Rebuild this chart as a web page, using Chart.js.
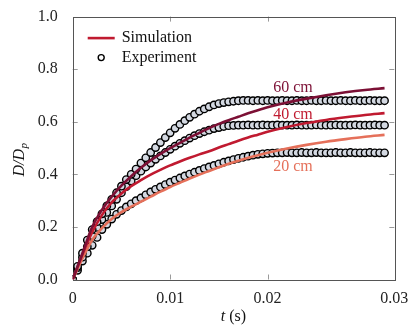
<!DOCTYPE html>
<html>
<head>
<meta charset="utf-8">
<script src="https://cdn.jsdelivr.net/npm/chart.js@4.4.0/dist/chart.umd.min.js"></script>
<style>
  html, body { margin: 0; padding: 0; background: #fff; }
  #wrap { width: 415px; height: 330px; }
</style>
</head>
<body>
<div id="wrap"><canvas id="grafico" width="415" height="330"></canvas></div>
<script>
// Datos
const tExp = [0,0.0005,0.001,0.0015,0.002,0.0025,0.003,0.0035,0.004,0.0045,
  0.005,0.0055,0.006,0.0065,0.007,0.0075,0.008,0.0085,0.009,0.0095,
  0.01,0.0105,0.011,0.0115,0.012,0.0125,0.013,0.0135,0.014,0.0145,
  0.015,0.0155,0.016,0.0165,0.017,0.0175,0.018,0.0185,0.019,0.0195,
  0.02,0.0205,0.021,0.0215,0.022,0.0225,0.023,0.0235,0.024,0.0245,
  0.025,0.0255,0.026,0.0265,0.027,0.0275,0.028,0.0285,0.029,0.0295,
  0.03,0.0305,0.031,0.0315,0.032];

const exp60 = [0,0.05,0.10,0.15,0.19,0.22,0.25,0.28,0.305,0.33,
  0.355,0.38,0.40,0.42,0.443,0.463,0.483,0.502,0.521,0.54,
  0.558,0.575,0.59,0.604,0.617,0.629,0.64,0.649,0.657,0.664,
  0.669,0.673,0.676,0.678,0.68,0.681,0.681,0.68,0.681,0.68,
  0.681,0.68,0.68,0.681,0.68,0.68,0.681,0.68,0.68,0.681,
  0.68,0.68,0.681,0.68,0.68,0.681,0.68,0.68,0.681,0.68,
  0.68,0.681,0.68,0.68,0.68];

const exp40 = [0,0.045,0.085,0.125,0.165,0.198,0.228,0.255,0.28,0.305,
  0.33,0.353,0.375,0.395,0.412,0.428,0.443,0.457,0.47,0.483,
  0.495,0.507,0.518,0.528,0.538,0.547,0.555,0.562,0.568,0.574,
  0.578,0.582,0.585,0.586,0.587,0.587,0.588,0.587,0.587,0.588,
  0.587,0.587,0.588,0.587,0.587,0.587,0.588,0.587,0.587,0.587,
  0.588,0.587,0.587,0.587,0.588,0.587,0.587,0.587,0.588,0.587,
  0.587,0.587,0.588,0.587,0.587];

const exp20 = [0,0.035,0.07,0.10,0.13,0.16,0.19,0.21,0.23,0.248,
  0.262,0.276,0.288,0.30,0.31,0.322,0.333,0.343,0.352,0.361,
  0.37,0.378,0.386,0.394,0.401,0.408,0.415,0.422,0.428,0.434,
  0.44,0.446,0.451,0.456,0.461,0.465,0.469,0.473,0.476,0.478,
  0.48,0.481,0.482,0.482,0.483,0.482,0.482,0.483,0.482,0.482,
  0.483,0.482,0.482,0.482,0.483,0.482,0.482,0.483,0.482,0.482,
  0.482,0.483,0.482,0.482,0.482];

const tSim = [0,0.001,0.002,0.003,0.004,0.005,0.006,0.007,0.008,0.009,0.010,
  0.011,0.012,0.013,0.014,0.015,0.016,0.017,0.018,0.019,0.020,
  0.022,0.024,0.026,0.028,0.030,0.032];

const sim60 = [0,0.10,0.20,0.265,0.315,0.357,0.393,0.425,0.453,0.478,0.500,
  0.52,0.54,0.558,0.576,0.592,0.606,0.619,0.632,0.644,0.655,
  0.673,0.688,0.701,0.712,0.721,0.728];

const sim40 = [0,0.095,0.18,0.245,0.293,0.327,0.355,0.378,0.399,0.417,0.434,
  0.449,0.463,0.476,0.488,0.502,0.515,0.528,0.54,0.551,0.562,
  0.58,0.595,0.607,0.617,0.626,0.633];

const sim20 = [0,0.08,0.15,0.195,0.23,0.256,0.277,0.296,0.315,0.334,0.352,
  0.368,0.384,0.399,0.413,0.427,0.44,0.452,0.463,0.473,0.482,
  0.498,0.512,0.524,0.534,0.543,0.55];

const xTicks = [0, 0.01, 0.02, 0.033];
const xTickLabels = ['0', '0.01', '0.02', '0.03'];

const curvaLabels = ['60 cm', '40 cm', '20 cm'];
const curvaLabelPos = [[0.0226, 0.729], [0.0226, 0.628], [0.0226, 0.427]];

const colores = ['#7c1035', '#c01a30', '#e5705a'];
const serif = "'Liberation Serif', 'DejaVu Serif', serif";

const pares = (xs, ys) => xs.map((x, i) => ({ x: x, y: ys[i] }));

// Marco con marcas hacia dentro, títulos, leyenda y etiquetas de curvas
const marcoPlugin = {
  id: 'marco',
  beforeDatasetsDraw(chart) {
    const { ctx, chartArea: a, scales: { x, y } } = chart;
    ctx.save();
    ctx.strokeStyle = '#9a9a9a';
    ctx.lineWidth = 1;
    ctx.beginPath();
    [0.2, 0.4, 0.6, 0.8].forEach(v => {
      const py = Math.round(y.getPixelForValue(v)) + 0.5;
      ctx.moveTo(a.left, py); ctx.lineTo(a.left + 5, py);
      ctx.moveTo(a.right, py); ctx.lineTo(a.right - 5, py);
    });
    [0.01, 0.02].forEach(v => {
      const px = Math.round(x.getPixelForValue(v)) + 0.5;
      ctx.moveTo(px, a.bottom); ctx.lineTo(px, a.bottom - 5);
      ctx.moveTo(px, a.top); ctx.lineTo(px, a.top + 5);
    });
    ctx.stroke();
    ctx.strokeStyle = '#555';
    ctx.strokeRect(Math.round(a.left) + 0.5, Math.round(a.top) + 0.5,
      Math.round(a.right - a.left), Math.round(a.bottom - a.top));
    ctx.restore();
  },
  afterDatasetsDraw(chart) {
    const { ctx, chartArea: a, scales: { x, y } } = chart;
    ctx.save();
    ctx.textBaseline = 'middle';
    ctx.font = '16px ' + serif;

    // etiquetas de las curvas
    ctx.textAlign = 'center';
    curvaLabels.forEach((txt, i) => {
      ctx.fillStyle = colores[i];
      ctx.fillText(txt, x.getPixelForValue(curvaLabelPos[i][0]), y.getPixelForValue(curvaLabelPos[i][1]));
    });

    // leyenda
    ctx.textAlign = 'left';
    ctx.strokeStyle = colores[1];
    ctx.lineWidth = 2.6;
    ctx.beginPath();
    ctx.moveTo(a.left + 15, a.top + 21.5);
    ctx.lineTo(a.left + 42, a.top + 21.5);
    ctx.stroke();
    ctx.fillStyle = '#fff';
    ctx.strokeStyle = '#000';
    ctx.lineWidth = 1.4;
    ctx.beginPath();
    ctx.arc(a.left + 28.5, a.top + 41, 3, 0, Math.PI * 2);
    ctx.fill(); ctx.stroke();
    ctx.fillStyle = '#111';
    ctx.fillText('Simulation', a.left + 49, a.top + 21);
    ctx.fillText('Experiment', a.left + 49, a.top + 41);

    // título eje x: t (s)
    const cx = (a.left + a.right) / 2;
    ctx.font = 'italic 16px ' + serif;
    const wT = ctx.measureText('t').width;
    ctx.font = '16px ' + serif;
    const wR = ctx.measureText(' (s)').width;
    let sx = cx - (wT + wR) / 2;
    ctx.font = 'italic 16px ' + serif;
    ctx.fillText('t', sx, 317);
    ctx.font = '16px ' + serif;
    ctx.fillText(' (s)', sx + wT, 317);

    // título eje y: D/D_p
    ctx.translate(20, 160);
    ctx.rotate(-Math.PI / 2);
    ctx.font = 'italic 16px ' + serif;
    const wD = ctx.measureText('D/D').width;
    ctx.font = 'italic 11px ' + serif;
    const wP = ctx.measureText('p').width;
    sx = -(wD + wP) / 2;
    ctx.font = 'italic 16px ' + serif;
    ctx.fillText('D/D', sx, 0);
    ctx.font = 'italic 11px ' + serif;
    ctx.fillText('p', sx + wD + 0.5, 4);
    ctx.restore();
  }
};

const expEstilo = {
  showLine: false,
  pointRadius: 3.7,
  pointBorderWidth: 1.4,
  pointBorderColor: '#000',
  pointBackgroundColor: '#d3d8e1'
};
const simEstilo = {
  showLine: true,
  pointRadius: 0,
  borderWidth: 2.6,
  cubicInterpolationMode: 'monotone',
  fill: false
};

// las líneas de simulación van primero para quedar encima de los círculos
new Chart(document.getElementById('grafico'), {
  type: 'scatter',
  data: {
    datasets: [
      Object.assign({ label: 'Sim 60', data: pares(tSim, sim60), borderColor: colores[0] }, simEstilo),
      Object.assign({ label: 'Sim 40', data: pares(tSim, sim40), borderColor: colores[1] }, simEstilo),
      Object.assign({ label: 'Sim 20', data: pares(tSim, sim20), borderColor: colores[2] }, simEstilo),
      Object.assign({ label: 'Exp 60', data: pares(tExp, exp60) }, expEstilo),
      Object.assign({ label: 'Exp 40', data: pares(tExp, exp40) }, expEstilo),
      Object.assign({ label: 'Exp 20', data: pares(tExp, exp20) }, expEstilo)
    ]
  },
  options: {
    responsive: false,
    animation: false,
    devicePixelRatio: 1,
    layout: { padding: { left: 0, top: 11.5, right: 20.7, bottom: 0 } },
    plugins: {
      legend: { display: false },
      tooltip: { enabled: false }
    },
    scales: {
      x: {
        type: 'linear',
        min: 0,
        max: 0.033,
        grid: { display: false },
        border: { display: false },
        afterBuildTicks: s => { s.ticks = xTicks.map(v => ({ value: v })); },
        afterFit: s => { s.height = 50.5; },
        ticks: {
          autoSkip: false,
          maxRotation: 0,
          padding: 2,
          color: '#222',
          font: { family: serif, size: 16 },
          callback: (v) => xTickLabels[xTicks.indexOf(v)]
        }
      },
      y: {
        min: 0,
        max: 1,
        grid: { display: false },
        border: { display: false },
        afterFit: s => { s.width = 72.7; },
        ticks: {
          stepSize: 0.2,
          padding: 7,
          color: '#222',
          font: { family: serif, size: 16 },
          callback: v => v.toFixed(1)
        }
      }
    }
  },
  plugins: [marcoPlugin]
});
</script>
</body>
</html>
